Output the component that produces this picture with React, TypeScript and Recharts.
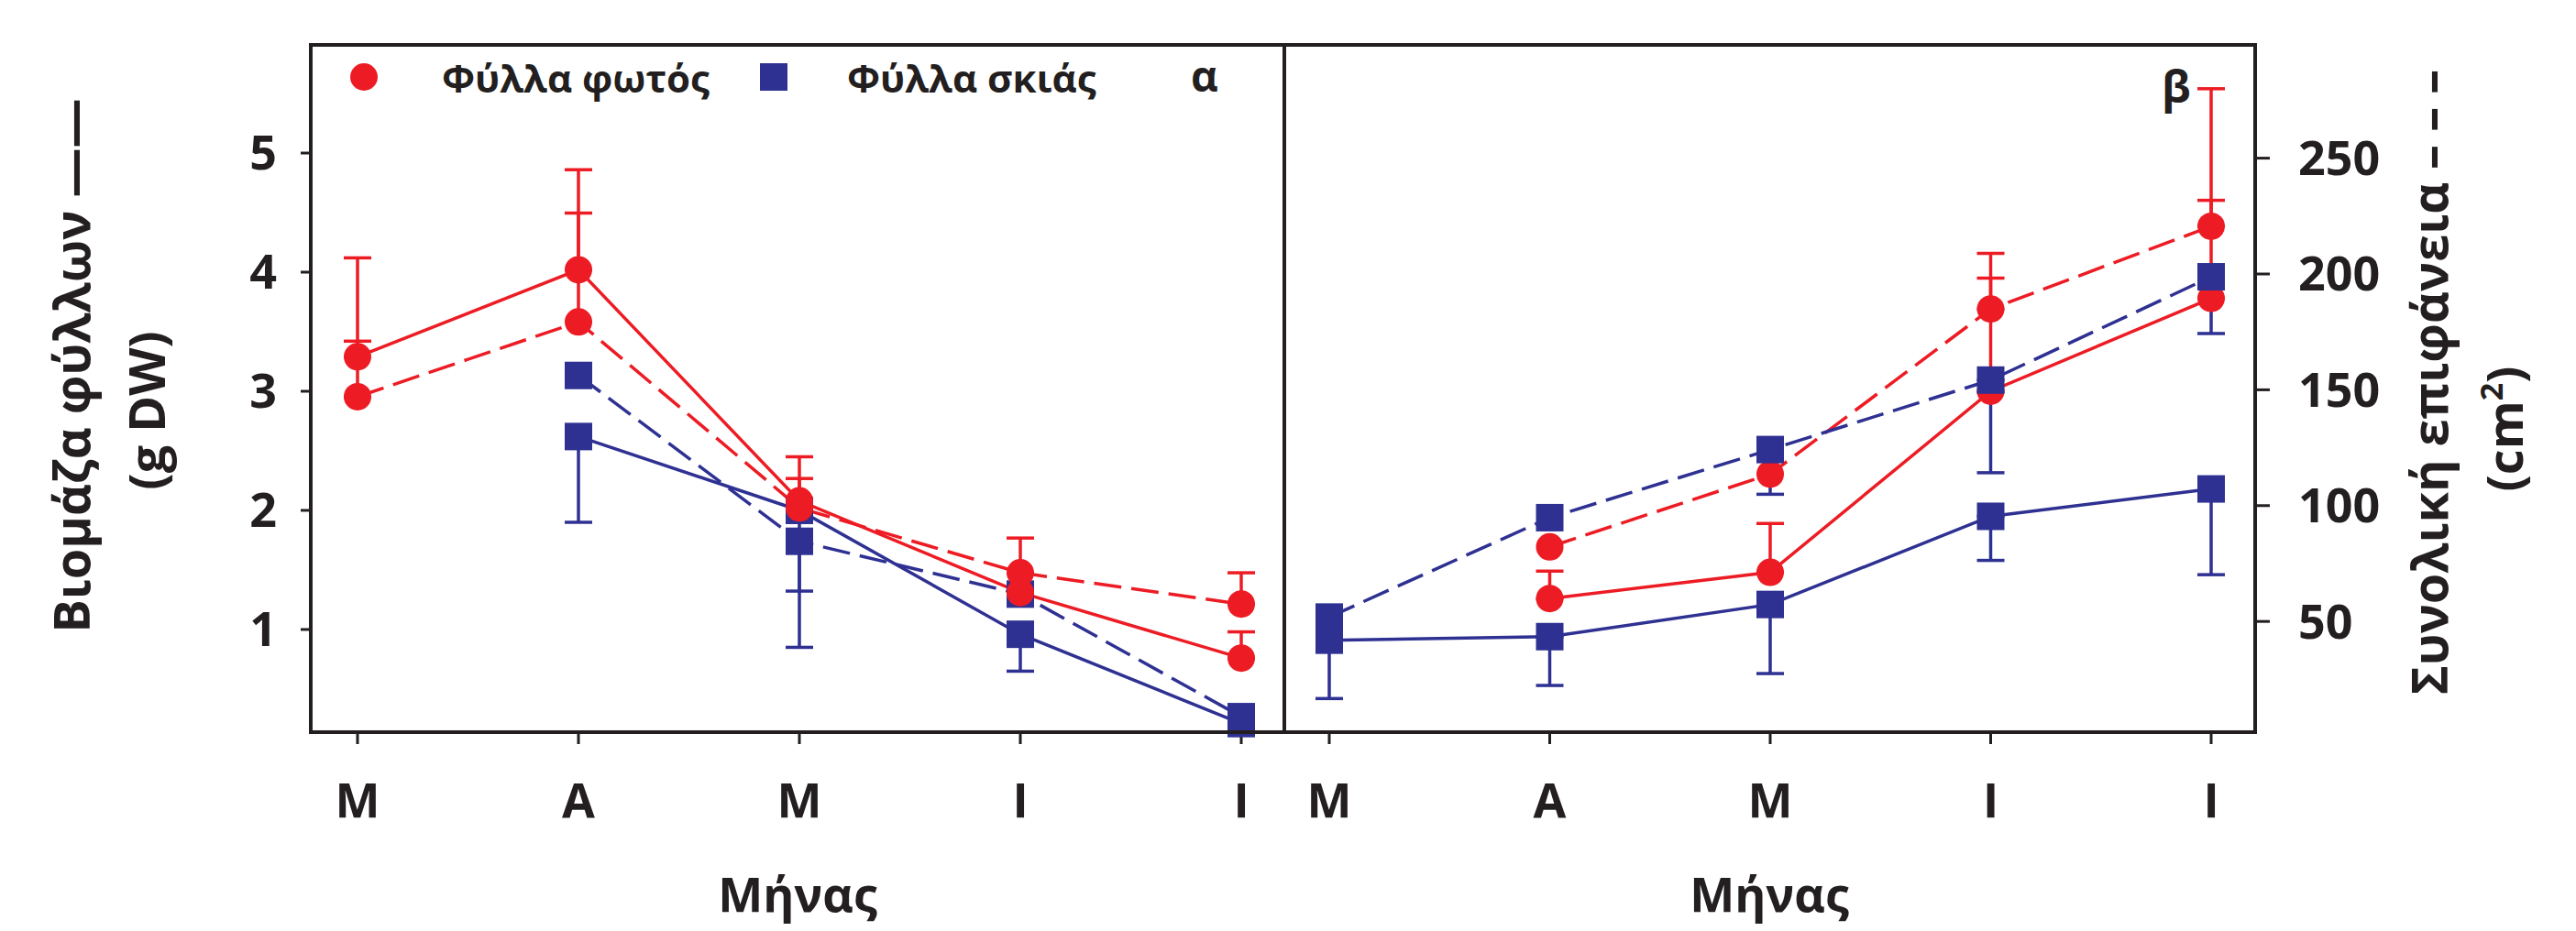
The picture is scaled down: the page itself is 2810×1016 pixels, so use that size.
import React from 'react';
import { ComposedChart, Line, XAxis, YAxis, ErrorBar } from 'recharts';

const RED = '#ED1C24';
const BLUE = '#2E3192';
const INK = '#231F20';
const FONT = '"Open Sans", "DejaVu Sans", sans-serif';

// Categories (months) and axis ticks
const months = ['Μ', 'Α', 'Μ', 'Ι', 'Ι'];
const biomassTicks = [1, 2, 3, 4, 5];
const areaTicks = [50, 100, 150, 200, 250];

// Panel α : sun leaves (Φύλλα φωτός)
const aSunBiomass = [3.29, 4.02, 2.08, 1.31, 0.76];
const aSunBiomassErr = [0.83, 0.84, 0.37, 0, 0.22];
const aSunArea = [147, 179.3, 99, 71, 57.5];
const aSunAreaErr = [24, 47, 12.7, 15, 13.5];
// Panel α : shade leaves (Φύλλα σκιάς)
const aShadeBiomass = [null, 2.62, 2.0, 0.96, 0.21];
const aShadeBiomassErr = [0, 0.72, 1.15, 0.31, 0];
const aShadeArea = [null, 156.2, 84.6, 61.8, 8.9];
const aShadeAreaErr = [0, 0, 21.5, 0, 0];

// Panel β : sun leaves
const bSunBiomass = [null, 1.26, 1.48, 3.0, 3.78];
const bSunBiomassErr = [0, 0.23, 0.41, 0.95, 1.76];
const bSunArea = [null, 82.2, 113.6, 184.9, 220.6];
const bSunAreaErr = [0, 0, 0, 24, 11.2];
// Panel β : shade leaves
const bShadeBiomass = [0.91, 0.94, 1.21, 1.95, 2.18];
const bShadeBiomassErr = [0.49, 0.41, 0.58, 0.37, 0.72];
const bShadeArea = [51.9, 94.8, 124.2, 154.2, 198.8];
const bShadeAreaErr = [0, 0, 19.3, 40, 24.5];

type Num = number | null;

function buildRows(
  sunBio: Num[], sunBioErr: number[], sunArea: Num[], sunAreaErr: number[],
  shadeBio: Num[], shadeBioErr: number[], shadeArea: Num[], shadeAreaErr: number[]
) {
  return months.map((_, i) => ({
    idx: i,
    sunBio: sunBio[i],
    sunBioErr: sunBioErr[i] ? [0, sunBioErr[i]] : undefined,
    sunArea: sunArea[i],
    sunAreaErr: sunAreaErr[i] ? [0, sunAreaErr[i]] : undefined,
    shadeBio: shadeBio[i],
    shadeBioErr: shadeBioErr[i] ? [shadeBioErr[i], 0] : undefined,
    shadeArea: shadeArea[i],
    shadeAreaErr: shadeAreaErr[i] ? [shadeAreaErr[i], 0] : undefined,
  }));
}

const alphaData = buildRows(aSunBiomass, aSunBiomassErr, aSunArea, aSunAreaErr,
  aShadeBiomass, aShadeBiomassErr, aShadeArea, aShadeAreaErr);
const betaData = buildRows(bSunBiomass, bSunBiomassErr, bSunArea, bSunAreaErr,
  bShadeBiomass, bShadeBiomassErr, bShadeArea, bShadeAreaErr);

const circleDot = (props: any) => {
  const { cx, cy, value, index } = props;
  if (cx == null || cy == null || value == null) return <g key={`c-${index}`} />;
  return <circle key={`c-${index}`} cx={cx} cy={cy} r={15} fill={RED} />;
};
const squareDot = (props: any) => {
  const { cx, cy, value, index } = props;
  if (cx == null || cy == null || value == null) return <g key={`s-${index}`} />;
  return <rect key={`s-${index}`} x={cx - 15} y={cy - 15} width={30} height={30} fill={BLUE} />;
};

const tickStyle = { fill: INK, fontSize: 52, fontWeight: 700, fontFamily: FONT };
const DASH = '30 11';
const LW = 3.5;

function series(kind: 'sun' | 'shade') {
  const color = kind === 'sun' ? RED : BLUE;
  const dot = kind === 'sun' ? circleDot : squareDot;
  return [
    <Line key={`${kind}Area`} yAxisId="area" dataKey={`${kind}Area`} stroke={color} strokeWidth={LW}
      strokeDasharray={DASH} dot={dot} activeDot={false} isAnimationActive={false}>
      <ErrorBar dataKey={`${kind}AreaErr`} width={15} stroke={color} strokeWidth={3.5} direction="y" isAnimationActive={false} />
    </Line>,
    <Line key={`${kind}Bio`} yAxisId="bio" dataKey={`${kind}Bio`} stroke={color} strokeWidth={LW}
      dot={dot} activeDot={false} isAnimationActive={false}>
      <ErrorBar dataKey={`${kind}BioErr`} width={15} stroke={color} strokeWidth={3.5} direction="y" isAnimationActive={false} />
    </Line>,
  ];
}

function Panel({ data, side }: { data: any[]; side: 'left' | 'right' }) {
  const isLeft = side === 'left';
  const width = isLeft ? 1405 : 1420;
  const margin = isLeft
    ? { top: 49, right: 4, bottom: 117, left: 219 }
    : { top: 49, right: 200, bottom: 117, left: 11 };
  const padding = isLeft ? { left: 51, right: 47 } : { left: 49, right: 48 };
  return (
    <ComposedChart width={width} height={1016} data={data} margin={margin}>
      <XAxis dataKey="idx" type="category" scale="point" padding={padding}
        tickFormatter={(v: number) => months[v]} interval={0}
        axisLine={false} tickLine={{ stroke: INK, strokeWidth: 3 }} tickSize={13} tickMargin={43}
        height={100} tick={tickStyle} />
      <YAxis yAxisId="bio" orientation="left" type="number" domain={[0.138, 5.908]} ticks={biomassTicks}
        width={120} hide={!isLeft} axisLine={false} tickLine={{ stroke: INK, strokeWidth: 3 }}
        tickSize={11} tickMargin={26} tick={tickStyle} interval={0} />
      <YAxis yAxisId="area" orientation="right" type="number" domain={[2.2, 298.9]} ticks={areaTicks}
        width={150} hide={isLeft} axisLine={false} tickLine={{ stroke: INK, strokeWidth: 3 }}
        tickSize={16} tickMargin={31} tick={tickStyle} interval={0} />
      {isLeft ? [...series('shade'), ...series('sun')] : [...series('sun'), ...series('shade')]}
    </ComposedChart>
  );
}

export default function App() {
  const txt = { fill: INK, fontFamily: FONT, fontWeight: 700 } as const;
  return (
    <div style={{ position: 'absolute', left: 0, top: 0, width: 2810, height: 1016, background: '#fff' }}>
      <div style={{ position: 'absolute', left: 0, top: 0 }}>
        <Panel data={alphaData} side="left" />
      </div>
      <div style={{ position: 'absolute', left: 1390, top: 0 }}>
        <Panel data={betaData} side="right" />
      </div>
      <svg width={2810} height={1016} style={{ position: 'absolute', left: 0, top: 0, pointerEvents: 'none' }}>
        <rect x={339} y={49} width={2121} height={750} fill="none" stroke={INK} strokeWidth={4} />
        <line x1={1401} y1={49} x2={1401} y2={799} stroke={INK} strokeWidth={4} />
        {/* legend */}
        <circle cx={397} cy={84} r={15} fill={RED} />
        <text x={482} y={101} fontSize={42} {...txt}>Φύλλα φωτός</text>
        <rect x={829} y={69} width={30} height={30} fill={BLUE} />
        <text x={924} y={101} fontSize={42} {...txt}>Φύλλα σκιάς</text>
        <text x={1299} y={100} fontSize={46} {...txt}>α</text>
        <text x={2358} y={112} fontSize={48} {...txt}>β</text>
        {/* axis titles */}
        <text x={98} y={399} fontSize={54} textAnchor="middle" transform="rotate(-90 98 399)" {...txt}>Βιομάζα φύλλων ——</text>
        <text x={180} y={448} fontSize={54} textAnchor="middle" transform="rotate(-90 180 448)" {...txt}>(g DW)</text>
        <text x={2670} y={417} fontSize={54} textAnchor="middle" transform="rotate(-90 2670 417)" {...txt}>Συνολική επιφάνεια – – –</text>
        <text x={2752} y={468} fontSize={54} textAnchor="middle" transform="rotate(-90 2752 468)" {...txt}>
          (cm<tspan fontSize={34} dy={-22}>2</tspan><tspan dy={22}>)</tspan>
        </text>
        <text x={870} y={995} fontSize={52} textAnchor="middle" {...txt}>Μήνας</text>
        <text x={1930} y={995} fontSize={52} textAnchor="middle" {...txt}>Μήνας</text>
      </svg>
    </div>
  );
}
